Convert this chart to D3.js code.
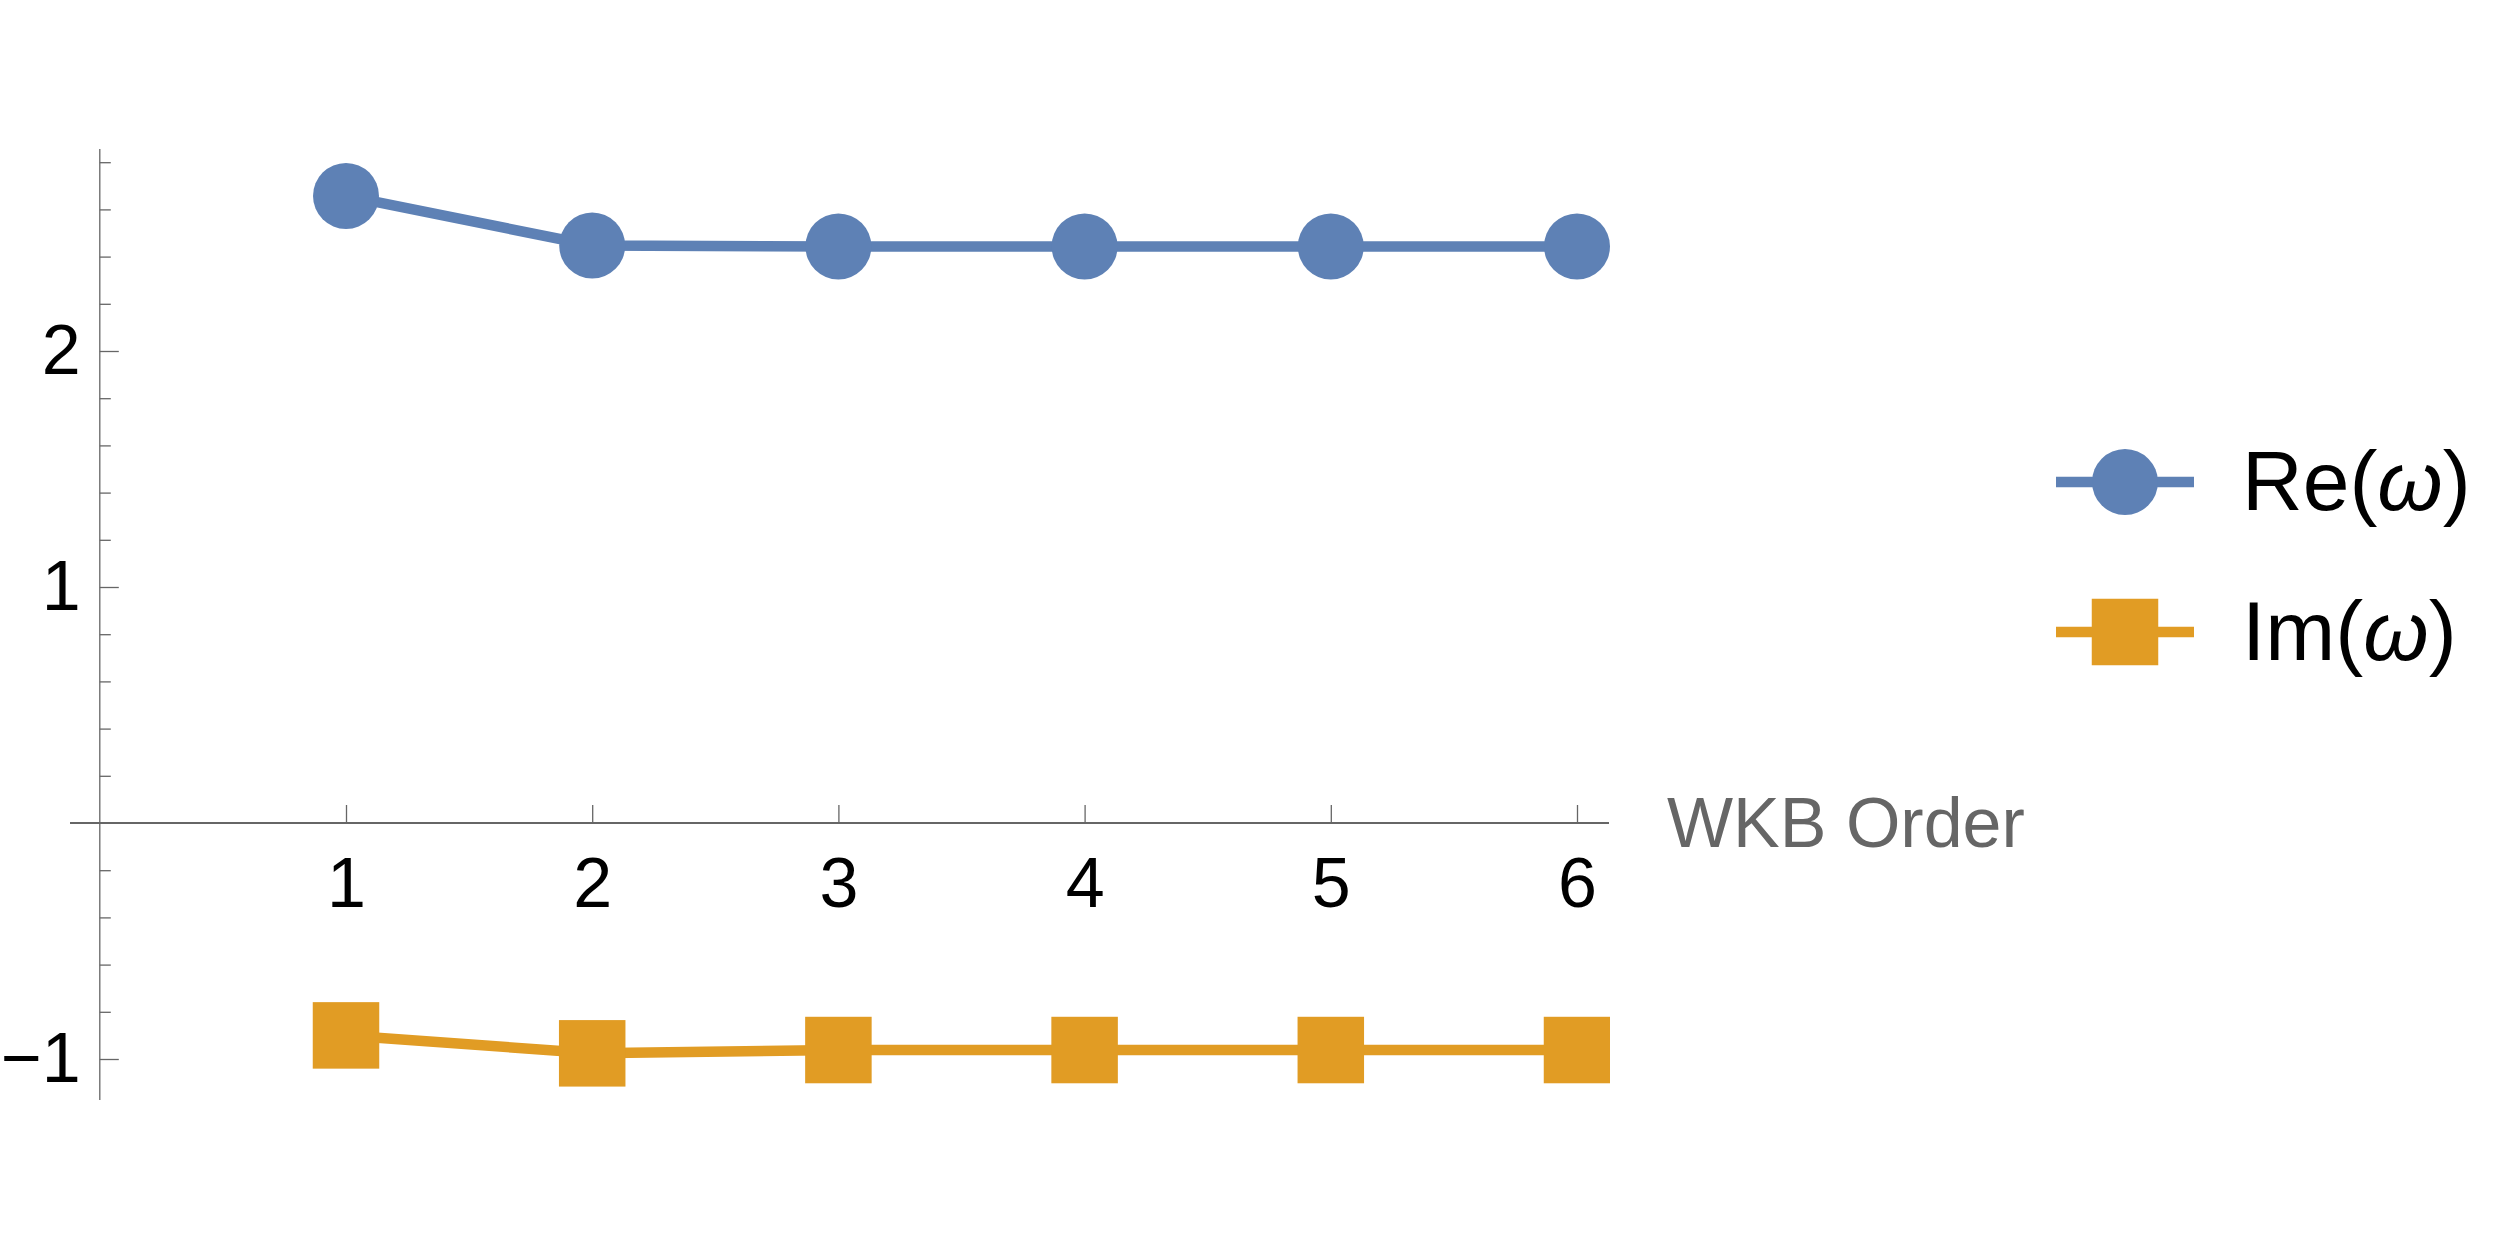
<!DOCTYPE html>
<html>
<head>
<meta charset="utf-8">
<script src="https://cdn.jsdelivr.net/npm/d3@7"></script>
<style>
  html, body { margin: 0; padding: 0; background: #fff; }
  svg { display: block; font-family: "Liberation Sans", Arial, sans-serif; }
</style>
</head>
<body>
<svg id="chart" width="2500" height="1249"></svg>
<script>
// ---- data ----
const orders = [1, 2, 3, 4, 5, 6];
const reOmega = [2.657, 2.447, 2.443, 2.443, 2.443, 2.443];
const imOmega = [-0.900, -0.976, -0.962, -0.962, -0.962, -0.962];
const yMajorTicks = [-1, 1, 2];
const yMinorTicks = [-0.8, -0.6, -0.4, -0.2, 0.2, 0.4, 0.6, 0.8, 1.2, 1.4, 1.6, 1.8, 2.2, 2.4, 2.6, 2.8];
const xTicks = [1, 2, 3, 4, 5, 6];
const xLabel = "WKB Order";
const seriesNames = ["Re", "Im"];

// ---- styling ----
const blue = "#5E81B5", orange = "#E19C24", axisCol = "#666666";
const svg = d3.select("#chart");

const x = d3.scaleLinear().domain([1, 6]).range([346, 1577]);
const y = d3.scaleLinear().domain([-1, 2]).range([1059, 351]);

// clip region (plot range)
svg.append("defs").append("clipPath").attr("id", "clip")
  .append("rect").attr("x", 0).attr("y", 0).attr("width", 1610).attr("height", 1249);

// ---- y axis ----
const yMin = y.invert(1100), yMax = y.invert(149);
const gy = svg.append("g").attr("transform", `translate(${x(0)},0)`);
gy.append("line").attr("x1", 0).attr("x2", 0).attr("y1", y(yMax)).attr("y2", y(yMin))
  .attr("stroke", axisCol).attr("stroke-width", 1.3);
const yMinorAxis = d3.axisLeft(y).tickValues(yMinorTicks).tickSizeInner(-11).tickSizeOuter(0).tickFormat("");
const gyMinor = gy.append("g").call(yMinorAxis);
const yMajorAxis = d3.axisLeft(y).tickValues(yMajorTicks).tickSizeInner(-19).tickSizeOuter(0).tickPadding(19).tickFormat(d3.format("d"));
const gyMajor = gy.append("g").call(yMajorAxis);
[gyMinor, gyMajor].forEach(g => {
  g.select(".domain").remove();
  g.selectAll(".tick line").attr("stroke", axisCol).attr("stroke-width", 1.3);
});
gyMajor.selectAll(".tick text").attr("font-size", 70).attr("fill", "#000")
  .attr("font-family", "Liberation Sans, Arial, sans-serif");

// ---- x axis ----
const gx = svg.append("g").attr("transform", `translate(0,${y(0)})`);
gx.append("line").attr("x1", x(-0.121)).attr("x2", 1609).attr("y1", 0).attr("y2", 0)
  .attr("stroke", axisCol).attr("stroke-width", 2);
const xAxis = d3.axisBottom(x).tickValues(xTicks).tickSizeInner(-18).tickSizeOuter(0).tickPadding(34).tickFormat(d3.format("d"));
const gxAxis = gx.append("g").call(xAxis);
gxAxis.select(".domain").remove();
gxAxis.selectAll(".tick line").attr("stroke", axisCol).attr("stroke-width", 1.3);
gxAxis.selectAll(".tick text").attr("font-size", 70).attr("fill", "#000")
  .attr("font-family", "Liberation Sans, Arial, sans-serif");
svg.append("text").attr("x", 1667).attr("y", y(0) + 24)
  .attr("font-size", 70).attr("fill", axisCol).text(xLabel);

// ---- series ----
const plot = svg.append("g").attr("clip-path", "url(#clip)");
const line = d3.line().x(d => x(d[0])).y(d => y(d[1]));
const reData = orders.map((o, i) => [o, reOmega[i]]);
const imData = orders.map((o, i) => [o, imOmega[i]]);

plot.append("path").datum(reData).attr("d", line).attr("fill", "none")
  .attr("stroke", blue).attr("stroke-width", 10.5);
plot.selectAll("circle.re").data(reData).join("circle").attr("class", "re")
  .attr("cx", d => x(d[0])).attr("cy", d => y(d[1])).attr("r", 33).attr("fill", blue);

plot.append("path").datum(imData).attr("d", line).attr("fill", "none")
  .attr("stroke", orange).attr("stroke-width", 10.5);
const sq = 66.5;
plot.selectAll("rect.im").data(imData).join("rect").attr("class", "im")
  .attr("x", d => x(d[0]) - sq / 2).attr("y", d => y(d[1]) - sq / 2)
  .attr("width", sq).attr("height", sq).attr("fill", orange);

// ---- legend ----
const legend = svg.append("g");
const legItems = [
  { name: seriesNames[0], color: blue, shape: "circle", cy: 482 },
  { name: seriesNames[1], color: orange, shape: "square", cy: 632 }
];
legItems.forEach(it => {
  legend.append("line").attr("x1", 2056).attr("x2", 2194).attr("y1", it.cy).attr("y2", it.cy)
    .attr("stroke", it.color).attr("stroke-width", 10.5);
  if (it.shape === "circle") {
    legend.append("circle").attr("cx", 2125).attr("cy", it.cy).attr("r", 33).attr("fill", it.color);
  } else {
    legend.append("rect").attr("x", 2125 - sq / 2).attr("y", it.cy - sq / 2)
      .attr("width", sq).attr("height", sq).attr("fill", it.color);
  }
  const t = legend.append("text").attr("x", 2242).attr("y", it.cy + 28)
    .attr("font-size", 84).attr("fill", "#000");
  t.append("tspan").text(it.name + "(");
  t.append("tspan").attr("font-style", "italic").text("ω");
  t.append("tspan").text(")");
});
</script>
</body>
</html>
